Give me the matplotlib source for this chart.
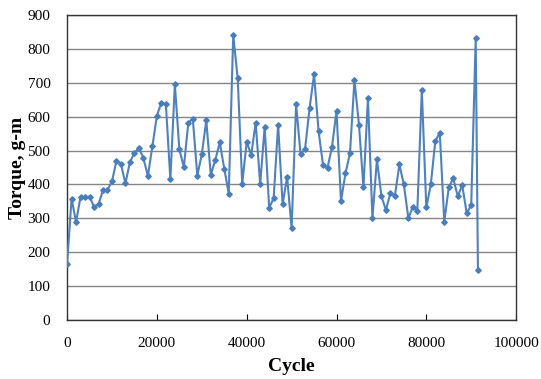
import numpy as np
import matplotlib
matplotlib.use("Agg")
import matplotlib.pyplot as plt

# data
cycles = list(range(0, 92000, 1000)) + [91500]
torque = [
    165, 358, 289, 364, 362, 364, 334, 342, 383, 384,
    409, 470, 460, 403, 467, 492, 509, 477, 425, 513,
    603, 642, 637, 415, 696, 504, 451, 582, 594, 426,
    489, 589, 428, 472, 524, 447, 372, 841, 713, 402,
    526, 487, 582, 401, 570, 331, 359, 577, 341, 423,
    270, 637, 489, 505, 625, 725, 558, 457, 449, 511,
    617, 351, 433, 492, 708, 577, 391, 654, 300, 474,
    366, 324, 374, 366, 459, 400, 300, 334, 322, 679,
    332, 400, 528, 553, 290, 391, 418, 365, 398, 315,
    339, 832, 146,
]

plt.rcParams['font.family'] = ['Liberation Serif', 'DejaVu Serif']

fig = plt.figure(figsize=(5.41, 3.79), dpi=100)
ax = fig.add_axes([0.124, 0.156, 0.830, 0.804])

ax.plot(cycles, torque, color='#4F81BD', lw=1.5, marker='D', ms=2.8,
        mec='#4A7EBB', mfc='#4A7EBB', zorder=3)

ax.set_xlim(0, 100000)
ax.set_ylim(0, 900)
ax.set_xticks(np.arange(0, 100001, 20000))
ax.set_yticks(np.arange(0, 901, 100))
ax.yaxis.grid(True, color='#858585', lw=1.0)
ax.set_axisbelow(True)

for s in ax.spines.values():
    s.set_color('#333333')
    s.set_linewidth(1.0)

ax.tick_params(axis='x', direction='in', length=4, labelsize=11, pad=12)
ax.tick_params(axis='y', length=0, labelsize=11, pad=12)

ax.set_xlabel('Cycle', fontsize=14, fontweight='bold', labelpad=6)
ax.set_ylabel('Torque, g-m', fontsize=14, fontweight='bold', labelpad=1)

fig.savefig('out.png', dpi=100)
